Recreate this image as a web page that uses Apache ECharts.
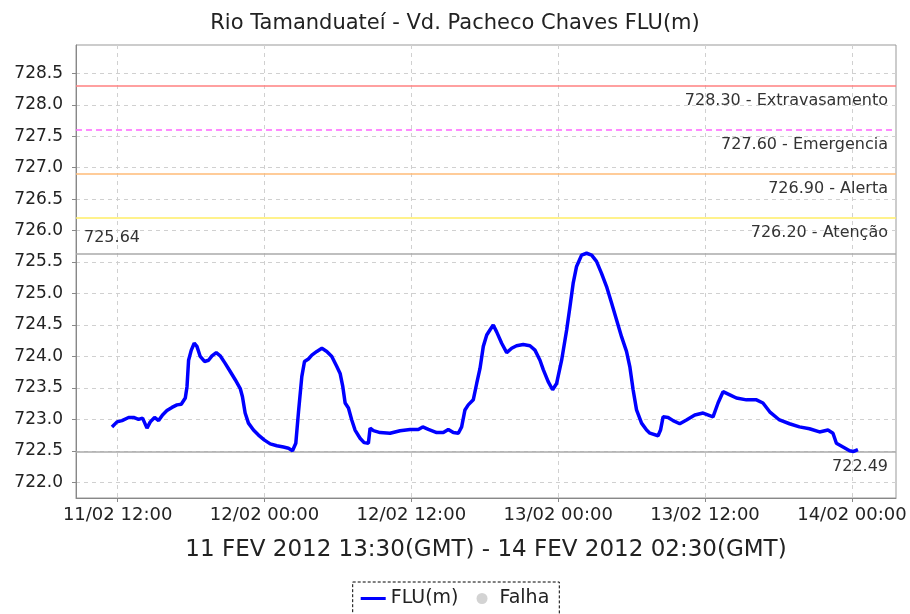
<!DOCTYPE html>
<html>
<head>
<meta charset="utf-8">
<script src="https://cdn.jsdelivr.net/npm/echarts@6/dist/echarts.min.js"></script>
<style>html,body{margin:0;padding:0;background:#fff;}#c{width:910px;height:614px;}</style>
</head>
<body>
<div id="c"></div>
<script>
// Hours since 11/02/2012 00:00 (local time, GMT-2)
var times = [11.54,11.95,12.36,12.90,13.31,13.71,14.04,14.40,14.67,15.02,15.35,15.67,16.03,16.44,16.85,17.20,17.53,17.67,17.80,18.02,18.26,18.48,18.75,19.10,19.43,19.71,20.06,20.38,20.79,21.20,21.61,22.02,22.20,22.42,22.69,23.10,23.51,24.00,24.47,25.01,25.55,25.96,26.29,26.56,26.78,27.05,27.27,27.59,27.87,28.28,28.69,29.09,29.50,29.91,30.18,30.40,30.59,30.86,31.13,31.40,31.81,32.14,32.49,32.63,32.90,33.45,34.26,35.08,35.90,36.57,36.93,37.39,38.07,38.61,39.02,39.43,39.84,40.11,40.38,40.65,41.06,41.34,41.61,41.88,42.16,42.42,42.69,42.97,43.38,43.79,44.20,44.60,45.14,45.69,46.10,46.51,46.78,47.18,47.54,47.87,48.28,48.69,48.96,49.22,49.50,49.91,50.32,50.73,51.13,51.54,51.95,52.36,52.77,53.18,53.58,53.85,54.12,54.40,54.81,55.22,55.49,56.16,56.36,56.57,56.98,57.39,57.93,58.48,59.16,59.84,60.65,61.06,61.47,62.02,62.56,63.38,64.20,64.73,65.28,66.08,66.90,67.71,68.53,69.35,70.04,70.45,70.73,71.27,71.81,72.14,72.49];
var levels = [722.88,722.96,722.98,723.03,723.03,723.00,723.02,722.86,722.96,723.03,722.98,723.07,723.14,723.19,723.23,723.24,723.34,723.52,723.94,724.10,724.21,724.16,724.00,723.92,723.94,724.01,724.06,724.01,723.89,723.76,723.63,723.49,723.36,723.10,722.94,722.83,722.75,722.67,722.61,722.58,722.56,722.54,722.50,722.62,723.12,723.68,723.92,723.96,724.02,724.08,724.13,724.08,724.00,723.84,723.73,723.52,723.26,723.18,722.99,722.83,722.70,722.63,722.62,722.86,722.82,722.79,722.78,722.82,722.84,722.84,722.88,722.84,722.79,722.79,722.84,722.79,722.78,722.88,723.15,723.23,723.31,723.57,723.81,724.16,724.34,724.42,724.50,724.39,724.21,724.06,724.13,724.17,724.19,724.17,724.10,723.94,723.79,723.60,723.47,723.57,723.94,724.42,724.79,725.16,725.43,725.61,725.64,725.61,725.51,725.32,725.11,724.85,724.58,724.31,724.08,723.84,723.47,723.15,722.94,722.83,722.78,722.74,722.83,723.04,723.03,722.98,722.93,722.99,723.07,723.10,723.04,723.26,723.44,723.39,723.34,723.31,723.31,723.26,723.12,722.99,722.93,722.88,722.85,722.80,722.83,722.78,722.62,722.56,722.50,722.49,722.52];
var thresholdValues = [728.30, 727.60, 726.90, 726.20];
var thresholdNames = ['Extravasamento', 'Emergencia', 'Alerta', 'Atenção'];
var thresholdColors = ['#ff8080', '#ff66ff', '#ffbb77', '#ffee66'];
var yTickValues = [722.0, 722.5, 723.0, 723.5, 724.0, 724.5, 725.0, 725.5, 726.0, 726.5, 727.0, 727.5, 728.0, 728.5];
var xTickValues = [12, 24, 36, 48, 60, 72];
var xTickLabels = ['11/02 12:00', '12/02 00:00', '12/02 12:00', '13/02 00:00', '13/02 12:00', '14/02 00:00'];

var FONT = 'DejaVu Sans';
var chart = echarts.init(document.getElementById('c'));
var seriesData = times.map(function (t, i) { return [t, levels[i]]; });

var markData = thresholdValues.map(function (v, i) {
  return {
    yAxis: v,
    lineStyle: { color: thresholdColors[i], type: i === 1 ? [6, 4] : 'solid', width: 1.5 },
    label: { formatter: v.toFixed(2) + ' - ' + thresholdNames[i], position: 'insideEndBottom' }
  };
});
markData.push({ type: 'max', lineStyle: { color: '#aaaaaa', type: 'solid', width: 1.5 },
  label: { position: 'insideStartTop', formatter: function (p) { return p.value.toFixed(2); } } });
markData.push({ type: 'min', lineStyle: { color: '#aaaaaa', type: 'solid', width: 1.5 },
  label: { position: 'insideEndBottom', formatter: function (p) { return p.value.toFixed(2); } } });

chart.setOption({
  animation: false,
  backgroundColor: '#fff',
  textStyle: { fontFamily: FONT },
  title: {
    text: 'Rio Tamanduateí - Vd. Pacheco Chaves FLU(m)',
    left: 'center', top: 8,
    textStyle: { fontFamily: FONT, fontSize: 21, fontWeight: 'normal', color: '#222' }
  },
  grid: { left: 76, right: 14, top: 45, bottom: 116, show: true, borderColor: '#999', borderWidth: 1, backgroundColor: '#fff' },
  legend: {
    left: 'center', top: 582,
    data: [{ name: 'FLU(m)', icon: 'path://M0,0L25,0L25,3L0,3Z' }, { name: 'Falha', icon: 'circle' }],
    borderColor: '#000', borderWidth: 1, borderType: [3, 2],
    padding: [7, 10, 10, 8], itemGap: 18, itemWidth: 25, itemHeight: 11,
    textStyle: { fontFamily: FONT, fontSize: 19, color: '#222' }
  },
  xAxis: {
    type: 'value', min: 8.6, max: 75.6,
    name: '11 FEV 2012 13:30(GMT) - 14 FEV 2012 02:30(GMT)',
    nameLocation: 'middle', nameGap: 41,
    nameTextStyle: { fontFamily: FONT, fontSize: 23, color: '#222' },
    axisLine: { lineStyle: { color: '#888' } },
    axisTick: { customValues: xTickValues, length: 4, lineStyle: { color: '#888' } },
    axisLabel: {
      customValues: xTickValues, fontFamily: FONT, fontSize: 18, color: '#222', margin: 8,
      formatter: function (v) { var i = xTickValues.indexOf(v); return i >= 0 ? xTickLabels[i] : ''; }
    },
    splitLine: { show: true, lineStyle: { color: '#d0d0d0', type: [4, 4] } }
  },
  yAxis: {
    type: 'value', min: 721.75, max: 728.95,
    axisLine: { show: true, lineStyle: { color: '#888' } },
    axisTick: { show: true, customValues: yTickValues, length: 4, lineStyle: { color: '#888' } },
    axisLabel: {
      customValues: yTickValues, fontFamily: FONT, fontSize: 17, color: '#222', margin: 13,
      formatter: function (v) { return v.toFixed(1); }
    },
    splitLine: { show: true, lineStyle: { color: '#d0d0d0', type: [4, 4] } }
  },
  series: [
    {
      name: 'FLU(m)', type: 'line', data: seriesData, symbol: 'none',
      lineStyle: { color: '#0000ff', width: 3.5 }, itemStyle: { color: '#0000ff' },
      z: 5,
      markLine: {
        silent: true, symbol: ['none', 'none'],
        label: { fontFamily: FONT, fontSize: 16, color: '#333', distance: [8, 7] },
        data: markData
      }
    },
    {
      name: 'Falha', type: 'scatter', data: [], symbol: 'circle', symbolSize: 10,
      itemStyle: { color: '#c8c8c8' }
    }
  ]
});
</script>
</body>
</html>
